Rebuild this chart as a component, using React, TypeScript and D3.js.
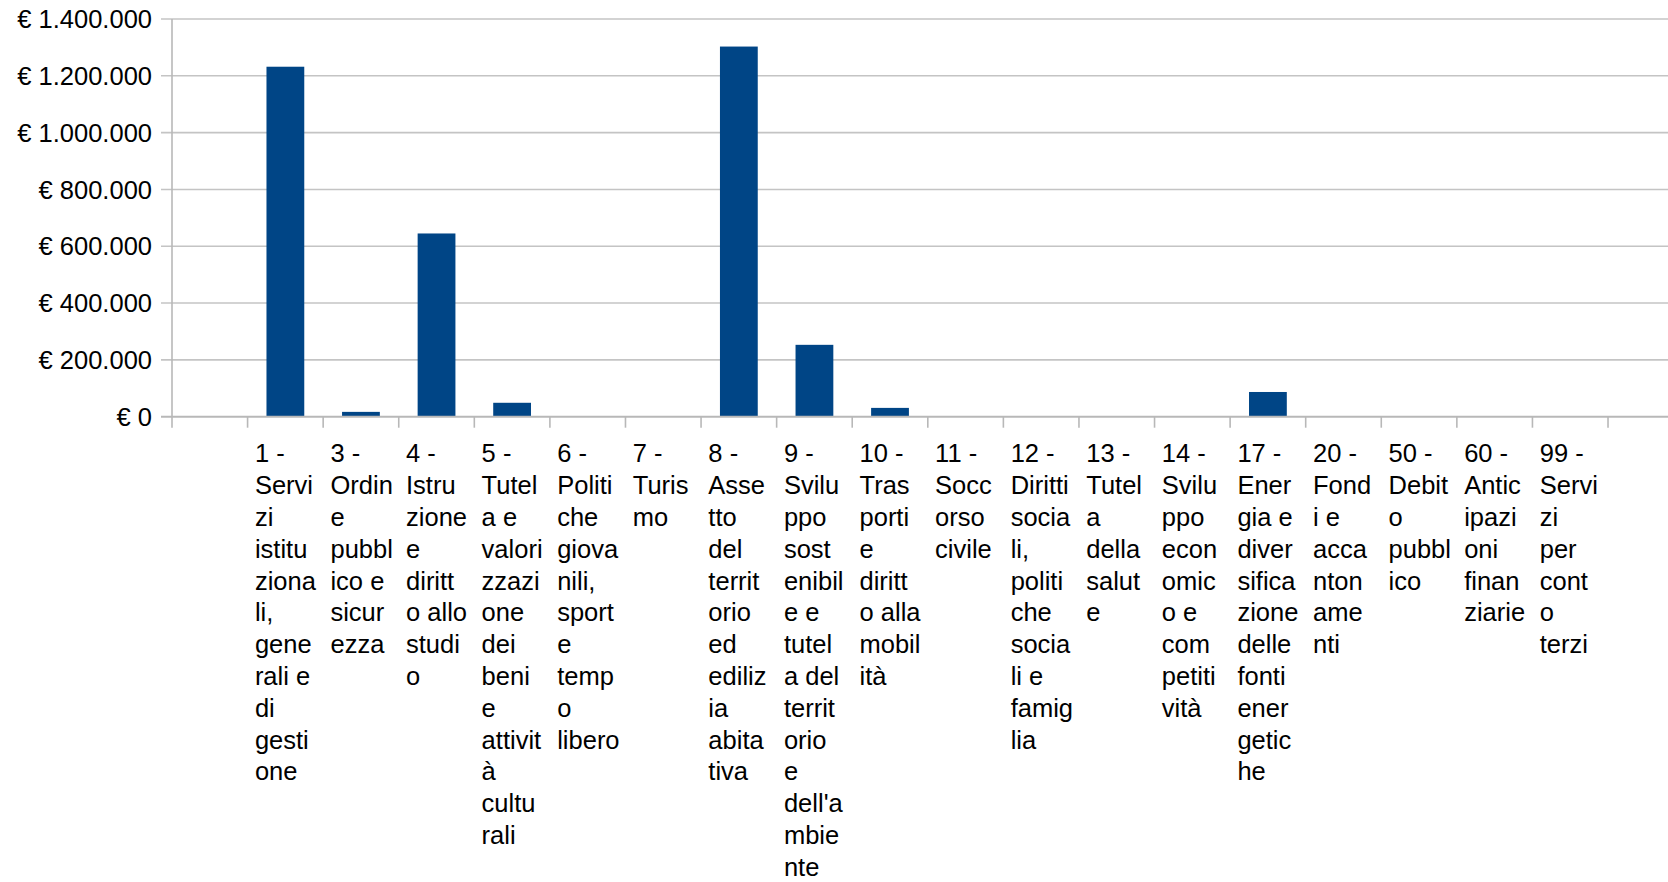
import React, { useEffect, useRef } from "react";
import * as d3 from "d3";

// Missioni di spesa (codice + etichetta già spezzata come nel grafico)
const codes = ["1", "3", "4", "5", "6", "7", "8", "9", "10", "11", "12", "13", "14", "17", "20", "50", "60", "99"];

const labelLines: string[][] = [
  ["1 -", "Servi", "zi", "istitu", "ziona", "li,", "gene", "rali e", "di", "gesti", "one"],
  ["3 -", "Ordin", "e", "pubbl", "ico e", "sicur", "ezza"],
  ["4 -", "Istru", "zione", "e", "diritt", "o allo", "studi", "o"],
  ["5 -", "Tutel", "a e", "valori", "zzazi", "one", "dei", "beni", "e", "attivit", "à", "cultu", "rali"],
  ["6 -", "Politi", "che", "giova", "nili,", "sport", "e", "temp", "o", "libero"],
  ["7 -", "Turis", "mo"],
  ["8 -", "Asse", "tto", "del", "territ", "orio", "ed", "ediliz", "ia", "abita", "tiva"],
  ["9 -", "Svilu", "ppo", "sost", "enibil", "e e", "tutel", "a del", "territ", "orio", "e", "dell'a", "mbie", "nte"],
  ["10 -", "Tras", "porti", "e", "diritt", "o alla", "mobil", "ità"],
  ["11 -", "Socc", "orso", "civile"],
  ["12 -", "Diritti", "socia", "li,", "politi", "che", "socia", "li e", "famig", "lia"],
  ["13 -", "Tutel", "a", "della", "salut", "e"],
  ["14 -", "Svilu", "ppo", "econ", "omic", "o e", "com", "petiti", "vità"],
  ["17 -", "Ener", "gia e", "diver", "sifica", "zione", "delle", "fonti", "ener", "getic", "he"],
  ["20 -", "Fond", "i e", "acca", "nton", "ame", "nti"],
  ["50 -", "Debit", "o", "pubbl", "ico"],
  ["60 -", "Antic", "ipazi", "oni", "finan", "ziarie"],
  ["99 -", "Servi", "zi", "per", "cont", "o", "terzi"],
];

const values = [1232000, 17000, 645000, 49000, 0, 0, 1303000, 253000, 31000, 0, 0, 0, 0, 87000, 0, 0, 0, 0];

const yTicks = [0, 200000, 400000, 600000, 800000, 1000000, 1200000, 1400000];

const locale = d3.formatLocale({
  decimal: ",",
  thousands: ".",
  grouping: [3],
  currency: ["€ ", ""],
});
const fmt = locale.format("$,.0f");

const App = () => {
  const svgRef = useRef<SVGSVGElement | null>(null);

  useEffect(() => {
    const width = 1668;
    const height = 882;
    const left = 172;
    const slot = 75.58;
    const top = 19;
    const bottom = 416.7;
    const font = "'Liberation Sans', Arial, sans-serif";

    const svg = d3.select(svgRef.current).attr("width", width).attr("height", height);
    svg.selectAll("*").remove();

    // empty slot before the first category and after the last one
    const domain = ["_pad0", ...codes, "_pad1"];
    const x = d3
      .scaleBand()
      .domain(domain)
      .range([left, left + slot * domain.length]);

    const y = d3.scaleLinear().domain([0, 1400000]).range([bottom, top]);

    // gridlines
    svg.append("g")
      .selectAll("line")
      .data(yTicks.filter((t) => t > 0))
      .enter()
      .append("line")
      .attr("x1", left - 11)
      .attr("x2", width)
      .attr("y1", (d) => y(d))
      .attr("y2", (d) => y(d))
      .attr("stroke", "#c4c4c4")
      .attr("stroke-width", 1.6);

    // y labels
    svg.append("g")
      .selectAll("text")
      .data(yTicks)
      .enter()
      .append("text")
      .attr("x", 152)
      .attr("y", (d) => y(d))
      .attr("dy", "0.36em")
      .attr("text-anchor", "end")
      .attr("font-family", font)
      .attr("font-size", 25.5)
      .attr("fill", "#000")
      .text((d) => fmt(d));

    // bars
    svg.append("g")
      .selectAll("rect")
      .data(values)
      .enter()
      .append("rect")
      .attr("x", (d, i) => x(codes[i])! + x.bandwidth() * 0.25)
      .attr("width", x.bandwidth() * 0.5)
      .attr("y", (d) => y(d))
      .attr("height", (d) => bottom - y(d))
      .attr("fill", "#004586");

    // axes lines
    svg.append("line")
      .attr("x1", left)
      .attr("x2", left)
      .attr("y1", top)
      .attr("y2", bottom + 11)
      .attr("stroke", "#b8b8b8")
      .attr("stroke-width", 1.6);

    svg.append("line")
      .attr("x1", left - 11)
      .attr("x2", width)
      .attr("y1", bottom)
      .attr("y2", bottom)
      .attr("stroke", "#b8b8b8")
      .attr("stroke-width", 2);

    // x ticks at slot boundaries
    svg.append("g")
      .selectAll("line")
      .data(domain.slice(1))
      .enter()
      .append("line")
      .attr("x1", (d) => x(d)!)
      .attr("x2", (d) => x(d)!)
      .attr("y1", bottom)
      .attr("y2", bottom + 11)
      .attr("stroke", "#b8b8b8")
      .attr("stroke-width", 1.6);

    // x labels
    const lab = svg.append("g")
      .selectAll("text")
      .data(codes)
      .enter()
      .append("text")
      .attr("font-family", font)
      .attr("font-size", 25.5)
      .attr("fill", "#000");

    lab.each(function (d, i) {
      const t = d3.select(this);
      labelLines[i].forEach((line, j) => {
        t.append("tspan")
          .attr("x", x(d)! + 7.3)
          .attr("y", 462.3 + j * 31.8)
          .text(line);
      });
    });
  }, []);

  return <svg ref={svgRef} style={{ position: "absolute", left: 0, top: 0, background: "#fff" }}></svg>;
};

export default App;
